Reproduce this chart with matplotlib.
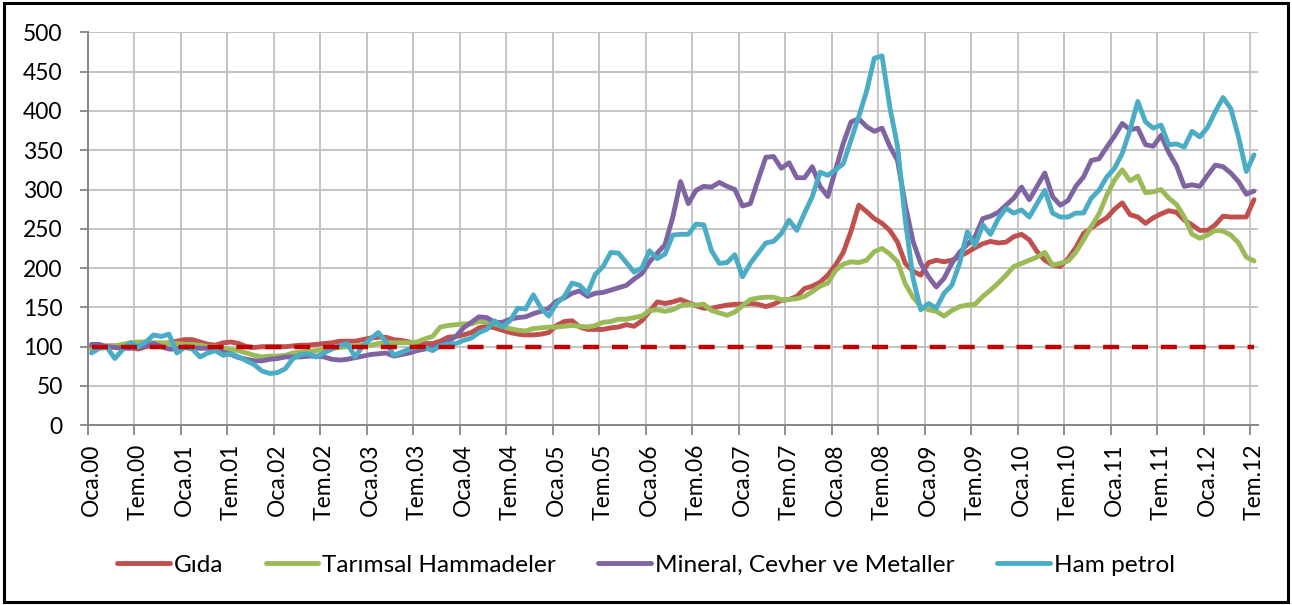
import matplotlib
matplotlib.use("Agg")
import matplotlib.pyplot as plt
from matplotlib.patches import Rectangle
import numpy as np

# monthly index values, Oca.2000 - Tem.2012 (2000 = 100)
gida = [100, 100, 101, 101, 101, 99, 97, 100, 102, 104, 105, 107,
        109, 109, 106, 103, 102, 105, 106, 104, 100, 99, 100, 100,
        100, 100, 101, 102, 102, 103, 104, 105, 107, 107, 107, 109,
        111, 112, 112, 109, 108, 106, 104, 104, 104, 107, 112, 113,
        115, 118, 124, 126, 124, 121, 118, 116, 115, 115, 116, 118,
        127, 132, 133, 125, 122, 122, 122, 124, 125, 128, 126, 133,
        145, 157, 155, 157, 160, 156, 152, 149, 149, 151, 153, 154,
        154, 155, 154, 151, 154, 159, 160, 164, 174, 177, 182, 191,
        204, 220, 247, 280, 272, 263, 257, 248, 233, 206, 196, 191,
        207, 210, 208, 210, 215, 220, 226, 231, 234, 232, 233, 240,
        243, 236, 221, 210, 204, 202, 212, 226, 244, 251, 258, 264,
        275, 283, 268, 265, 257, 264, 269, 273, 271, 261, 255, 248,
        248, 255, 266, 265, 265, 265, 287]

tarimsal = [96, 99, 100, 101, 103, 105, 106, 106, 105, 105, 104, 104,
            103, 103, 102, 100, 100, 98, 96, 95, 92, 89, 87, 88,
            88, 89, 92, 93, 94, 95, 97, 98, 99, 100, 101, 102,
            102, 104, 105, 105, 105, 105, 106, 110, 113, 125, 127, 128,
            129, 129, 132, 131, 129, 126, 123, 121, 120, 123, 124, 125,
            125, 126, 127, 126, 125, 127, 131, 132, 135, 135, 137, 139,
            146, 147, 145, 147, 152, 154, 153, 154, 146, 143, 140, 144,
            152, 160, 162, 163, 163, 160, 160, 161, 164, 170, 177, 181,
            197, 205, 208, 207, 210, 221, 225, 218, 208, 180, 163, 151,
            147, 145, 139, 146, 151, 153, 154, 164, 172, 181, 191, 202,
            206, 210, 214, 220, 204, 206, 209, 220, 236, 253, 269, 293,
            312, 325, 311, 317, 296, 297, 300, 289, 281, 265, 243, 238,
            242, 248, 247, 242, 232, 214, 209]

mineral = [103, 103, 100, 99, 98, 98, 99, 101, 104, 100, 97, 97,
           100, 99, 98, 98, 97, 93, 90, 86, 84, 82, 82, 84,
           85, 87, 87, 87, 88, 88, 87, 84, 83, 84, 86, 88,
           90, 91, 92, 88, 90, 92, 95, 97, 99, 102, 107, 113,
           124, 131, 138, 137, 131, 131, 135, 137, 138, 142, 145, 149,
           158, 162, 168, 171, 164, 168, 169, 172, 175, 178, 186, 193,
           208, 219, 230, 265, 310, 282, 299, 304, 303, 309, 304, 300,
           279, 282, 312, 341, 342, 327, 334, 315, 315, 329, 304, 291,
           325, 359, 386, 390, 380, 374, 378, 355, 337, 280, 234, 206,
           189, 176, 187, 206, 220, 230, 240, 263, 266, 271, 280, 289,
           303, 287, 304, 321, 291, 280, 286, 304, 316, 337, 339, 354,
           368, 384, 376, 378, 357, 355, 369, 347, 330, 304, 306, 304,
           318, 331, 329, 321, 310, 294, 298]

ham_petrol = [92, 98, 99, 85, 96, 105, 100, 106, 115, 113, 116, 92,
              99, 97, 87, 92, 95, 89, 91, 87, 82, 77, 69, 66,
              67, 72, 85, 90, 91, 87, 92, 97, 101, 104, 87, 101,
              110, 118, 106, 89, 93, 97, 99, 99, 95, 101, 103, 104,
              108, 111, 118, 122, 133, 125, 133, 149, 148, 166, 149, 139,
              155, 164, 181, 178, 168, 192, 202, 220, 219, 207, 195, 200,
              222, 212, 218, 242, 243, 243, 256, 255, 222, 206, 207, 217,
              189, 206, 219, 232, 234, 244, 261, 248, 270, 291, 322, 318,
              325, 333, 363, 393, 425, 467, 470, 405, 355, 261, 187, 147,
              155, 149, 168, 178, 206, 246, 229, 255, 243, 263, 276, 270,
              274, 265, 282, 299, 270, 265, 265, 270, 270, 289, 299, 316,
              327, 346, 376, 412, 386, 378, 382, 357, 358, 354, 374, 367,
              379, 399, 417, 403, 367, 323, 344]

base_level = 100

tick_labels = ["Oca.00", "Tem.00", "Oca.01", "Tem.01", "Oca.02", "Tem.02",
               "Oca.03", "Tem.03", "Oca.04", "Tem.04", "Oca.05", "Tem.05",
               "Oca.06", "Tem.06", "Oca.07", "Tem.07", "Oca.08", "Tem.08",
               "Oca.09", "Tem.09", "Oca.10", "Tem.10", "Oca.11", "Tem.11",
               "Oca.12", "Tem.12"]

series = [("Gıda", gida, "#C0504D"),
          ("Tarımsal Hammadeler", tarimsal, "#9BBB59"),
          ("Mineral, Cevher ve Metaller", mineral, "#8064A2"),
          ("Ham petrol", ham_petrol, "#4BACC6")]


def main():
    plt.rcParams['font.family'] = ['Lato', 'DejaVu Sans']
    fs = 16.5

    W, H = 1292, 605
    fig = plt.figure(figsize=(W / 100, H / 100), dpi=100)
    ax = fig.add_axes([87.7 / W, 1 - 425.3 / H, (1257.9 - 87.7) / W, (425.3 - 32.3) / H])

    n = len(gida)
    x = np.arange(n)

    for name, vals, col in series:
        ax.plot(x, vals, color=col, lw=3.5, label=name, solid_joinstyle='round',
                solid_capstyle='round', zorder=3)
    ax.plot(x, [base_level] * n, color="#C00000", lw=3.2, dashes=(3.6, 2.9),
            dash_capstyle='butt', zorder=4)

    # category axis: ticks between categories, labels every 6 months
    ax.set_xlim(-0.5, n - 0.5)
    step = 6
    ax.set_xticks(np.arange(-0.5, n - 1, step))
    ax.set_xticklabels([])
    ax.set_xticks(np.arange(0, n, step), minor=True)
    ax.set_xticklabels(tick_labels, minor=True, rotation=90, fontsize=fs,
                       va='top', ha='center')
    ax.tick_params(axis='x', which='major', length=7.5, width=1.3, color='#868686', direction='out')
    ax.tick_params(axis='x', which='minor', length=0, pad=13)

    ax.set_ylim(0, 500)
    ax.set_yticks(np.arange(0, 501, 50))
    ax.tick_params(axis='y', length=6, width=1.3, color='#868686', labelsize=fs, pad=12)

    ax.grid(True, which='major', color='#BFBFBF', lw=1.3, zorder=0)
    ax.set_axisbelow(True)
    for s in ['top', 'right']:
        ax.spines[s].set_visible(False)
    for s in ['left', 'bottom']:
        ax.spines[s].set_color('#868686')
        ax.spines[s].set_linewidth(1.4)

    handles, labels = ax.get_legend_handles_labels()
    fig.legend(handles, labels, loc='center', bbox_to_anchor=(0.5, 1 - 565 / H),
               ncol=4, frameon=False, fontsize=17.6, handlelength=2.15,
               handletextpad=0.18, columnspacing=1.72)

    fig.patches.append(Rectangle((4 / W, 3 / H), 1284 / W, 599 / H, transform=fig.transFigure,
                                 fill=False, ec='black', lw=2.2))

    fig.savefig("out.png", dpi=100)


if __name__ == "__main__":
    main()
